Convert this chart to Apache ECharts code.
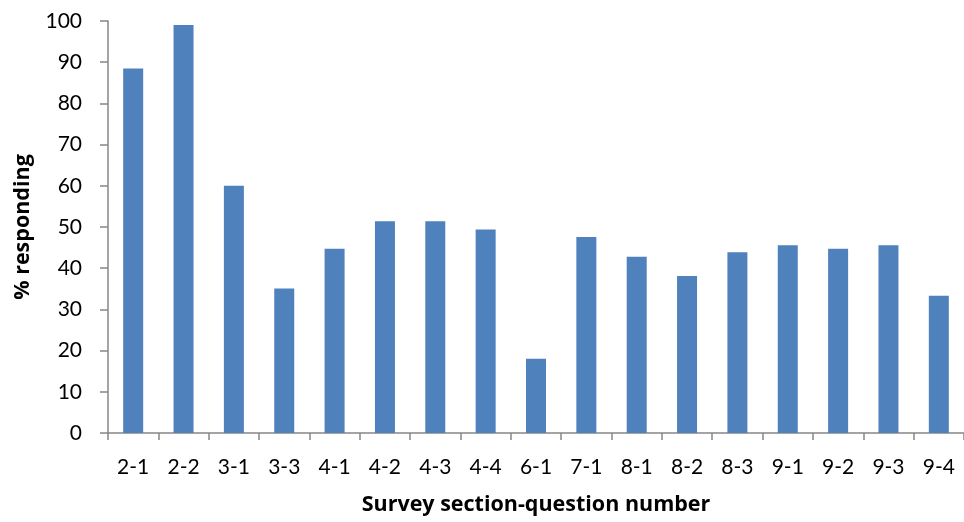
<!DOCTYPE html>
<html>
<head>
<meta charset="utf-8">
<script src="https://cdn.jsdelivr.net/npm/echarts@6/dist/echarts.min.js"></script>
<style>
  html, body { margin: 0; padding: 0; background: #ffffff; }
  #chart { width: 964px; height: 522px; }
</style>
</head>
<body>
<div id="chart"></div>
<script>
// Survey questions (section-question) and share of respondents answering each
const categories = ['2-1', '2-2', '3-1', '3-3', '4-1', '4-2', '4-3', '4-4', '6-1',
                    '7-1', '8-1', '8-2', '8-3', '9-1', '9-2', '9-3', '9-4'];
const responding = [88.5, 99.0, 60.0, 35.1, 44.7, 51.4, 51.4, 49.4, 18.0,
                    47.6, 42.8, 38.1, 43.9, 45.6, 44.7, 45.6, 33.3];
const yTicks = { min: 0, max: 100, step: 10 };

const FONT = 'Lato, "Open Sans", sans-serif';
const TITLE_FONT = '"Open Sans", Lato, sans-serif';
const AXIS_GREY = '#868686';

const chart = echarts.init(document.getElementById('chart'), null, { renderer: 'canvas' });
chart.setOption({
  animation: false,
  backgroundColor: '#ffffff',
  grid: { left: 108, top: 21, width: 863, bottom: 89, containLabel: false },
  xAxis: {
    type: 'category',
    data: categories,
    name: 'Survey section-question number',
    nameLocation: 'middle',
    nameGap: 61,
    nameTextStyle: { fontFamily: TITLE_FONT, fontSize: 21.5, fontWeight: 'bold', color: '#000000' },
    axisLine: { lineStyle: { color: AXIS_GREY, width: 1.5 } },
    axisTick: { show: true, length: 7, alignWithLabel: false, lineStyle: { color: AXIS_GREY, width: 1.5 } },
    axisLabel: { fontFamily: FONT, fontSize: 21, color: '#000000', margin: 24, interval: 0 },
    splitLine: { show: false }
  },
  yAxis: {
    type: 'value',
    min: yTicks.min,
    max: yTicks.max,
    interval: yTicks.step,
    name: '% responding',
    nameLocation: 'middle',
    nameGap: 74,
    nameRotate: 90,
    nameTextStyle: { fontFamily: TITLE_FONT, fontSize: 21.5, fontWeight: 'bold', color: '#000000' },
    axisLine: { show: true, lineStyle: { color: AXIS_GREY, width: 1.5 } },
    axisTick: { show: true, length: 8, lineStyle: { color: AXIS_GREY, width: 1.5 } },
    axisLabel: { fontFamily: FONT, fontSize: 21, color: '#000000', margin: 26 },
    splitLine: { show: false }
  },
  series: [{
    type: 'bar',
    data: responding,
    barWidth: 20,
    itemStyle: { color: '#4F81BD' }
  }]
});
</script>
</body>
</html>
